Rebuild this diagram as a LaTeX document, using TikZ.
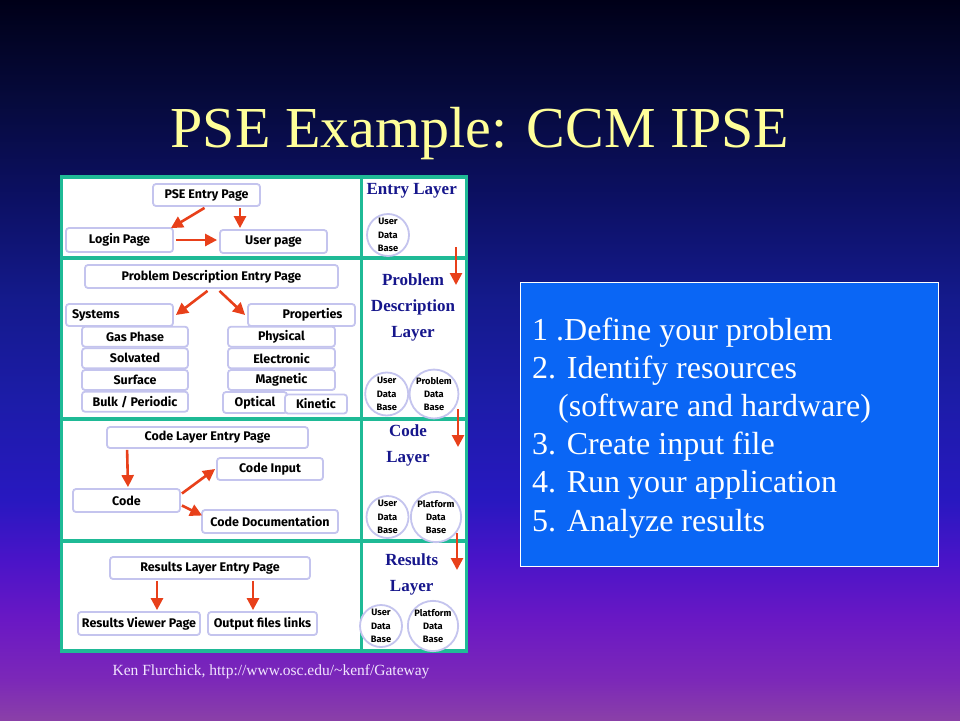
\documentclass[tikz,border=0pt]{standalone}
\usepackage{fontspec}
\setmainfont{Liberation Serif}
\newfontfamily\boxfont{Fira Sans}
\usetikzlibrary{arrows.meta}
\definecolor{bgA}{HTML}{8A40A8}
\definecolor{bgB}{HTML}{7C28B8}
\definecolor{bgC}{HTML}{6A18C4}
\definecolor{bgD}{HTML}{4A14C8}
\definecolor{bgE}{HTML}{2818C0}
\definecolor{bgF}{HTML}{1C1CA8}
\definecolor{bgG}{HTML}{141A8C}
\definecolor{bgH}{HTML}{0C1064}
\definecolor{bgI}{HTML}{060A3C}
\definecolor{bgJ}{HTML}{000018}
\definecolor{titleyellow}{HTML}{FFFF99}
\definecolor{tealline}{HTML}{1FBA96}
\definecolor{lav}{HTML}{C4C4EE}
\definecolor{arrred}{HTML}{E8401A}
\definecolor{layerblue}{HTML}{16168C}
\definecolor{boxblue}{HTML}{0A66F5}
\definecolor{credit}{HTML}{F2E6FF}
\pgfdeclareverticalshading{slidebg}{100bp}{color(0bp)=(bgA); color(25bp)=(bgA); color(27.78bp)=(bgB); color(31.94bp)=(bgC); color(36.11bp)=(bgD); color(40.28bp)=(bgE); color(47.22bp)=(bgF); color(54.17bp)=(bgG); color(61.11bp)=(bgH); color(68.06bp)=(bgI); color(75bp)=(bgJ); color(100bp)=(bgJ)}
\tikzset{
  pbox/.style={draw=lav, fill=white, line width=1.8pt, rounded corners=3pt, inner sep=2pt, text=black,
    font=\boxfont\bfseries\fontsize{12.5}{13}\selectfont},
  rarrow/.style={draw=arrred, line width=2.6pt, -{Triangle[length=12pt,width=12pt]}},
  dbc/.style={circle, draw=lav, fill=white, line width=1.8pt, inner sep=0pt, align=center, text=black,
    font=\boxfont\bfseries\fontsize{9.3}{13.3}\selectfont},
  layer/.style={font=\bfseries\fontsize{17}{26}\selectfont, text=layerblue, align=center},
  divider/.style={draw=tealline, line width=3.5pt},
  listline/.style={anchor=base west, text=white, font=\fontsize{32}{36}\selectfont, inner sep=0pt}
}
\begin{document}
\begin{tikzpicture}[x=1pt,y=-1pt]
\shade[shading=slidebg] (0,0) rectangle (960,720);
\useasboundingbox (0,0) rectangle (960,720);

% title
\node[anchor=base, text=titleyellow, font=\fontsize{58}{60}\selectfont, inner sep=0pt] (title) at (480,147) {PSE Example: CCM IPSE};

% panel
\draw[divider, fill=white] (61.5,177) rectangle (466.5,651);
\draw[divider] (361.5,177) -- (361.5,651);
\draw[divider] (61.5,258) -- (466.5,258);
\draw[divider] (61.5,419) -- (466.5,419);
\draw[divider] (61.5,541) -- (466.5,541);

% entry layer
\node[pbox, minimum width=107pt, minimum height=22pt] (pse) at (206.5,195) {PSE Entry Page};
\node[pbox, minimum width=107pt, minimum height=24pt] (login) at (119.5,240) {Login Page};
\node[pbox, minimum width=107pt, minimum height=23pt] (user) at (273.5,241.5) {User page};
\draw[rarrow] ([xshift=-2pt,yshift=-1pt]pse.south) -- ([xshift=-3pt,yshift=-1pt]login.north east);
\draw[rarrow] ([xshift=33.5pt,yshift=-1pt]pse.south) -- ([xshift=-33.5pt,yshift=1pt]user.north);
\draw[rarrow] ([xshift=2pt]login.east) -- ([xshift=-2pt]login.east -| user.west);

% problem description layer
\node[pbox, minimum width=253pt, minimum height=23pt] (pde) at (211.5,276.5) {Problem Description Entry Page};
\node[pbox, minimum width=107pt, minimum height=22pt, text width=95pt, align=left] (sys) at (119.5,315) {Systems};
\node[pbox, minimum width=107pt, minimum height=22pt, text width=82pt, align=right] (prop) at (301.5,315) {Properties};
\node[pbox, minimum width=106pt, minimum height=20pt] (gas) at (135,336.7) {Gas Phase};
\node[pbox, minimum width=106pt, minimum height=20pt] (solv) at (135,358.3) {Solvated};
\node[pbox, minimum width=106pt, minimum height=20pt] (surf) at (135,380) {Surface};
\node[pbox, minimum width=106pt, minimum height=20pt] (bulk) at (135,401.7) {Bulk / Periodic};
\node[pbox, minimum width=107pt, minimum height=20pt] (phys) at (281.5,336.7) {Physical};
\node[pbox, minimum width=107pt, minimum height=20pt] (elec) at (281.5,358.3) {Electronic};
\node[pbox, minimum width=107pt, minimum height=20pt] (magn) at (281.5,380) {Magnetic};
\node[pbox, minimum width=64pt, minimum height=21pt] (opt) at (255,402.5) {Optical};
\node[pbox, minimum width=62pt, minimum height=19pt] (kin) at (316,404) {Kinetic};
\draw[rarrow] ([xshift=-4pt,yshift=-2pt]pde.south) -- ([xshift=2pt]sys.east);
\draw[rarrow] ([xshift=8pt,yshift=-2pt]pde.south) -- ([xshift=-2pt]prop.west);

% code layer
\node[pbox, minimum width=201pt, minimum height=21pt] (cle) at (207.5,437.5) {Code Layer Entry Page};
\node[pbox, minimum width=106pt, minimum height=22pt] (cin) at (270,469) {Code Input};
\node[pbox, minimum width=107pt, minimum height=23pt] (code) at (126.5,500.5) {Code};
\node[pbox, minimum width=136pt, minimum height=23pt] (cdoc) at (270,521.5) {Code Documentation};
\draw[rarrow] ([xshift=21pt,yshift=-1pt]cle.south west) -- ([xshift=1.5pt,yshift=1pt]code.north);
\draw[rarrow] ([xshift=1pt,yshift=7pt]code.east) -- ([xshift=-1pt]cin.west);
\draw[rarrow] ([xshift=1pt,yshift=-5pt]code.east) -- ([xshift=1pt,yshift=6pt]cdoc.west);

% results layer
\node[pbox, minimum width=200pt, minimum height=22pt] (rle) at (210,568) {Results Layer Entry Page};
\node[pbox, minimum width=122pt, minimum height=23pt] (rview) at (139,623.5) {Results Viewer Page};
\node[pbox, minimum width=109pt, minimum height=23pt] (outp) at (262.5,623.5) {Output files links};
\draw[rarrow] ([xshift=-53pt,yshift=-1pt]rle.south) -- ([xshift=18pt,yshift=1pt]rview.north);
\draw[rarrow] ([xshift=43pt,yshift=-1pt]rle.south) -- ([xshift=-9.5pt,yshift=1pt]outp.north);

% right column
\node[layer] (l1) at (411.7,191) {Entry Layer};
\node[dbc, minimum size=42pt] (udb1) at (388,235) {User\\Data\\Base};
\node[layer] (l2) at (413,307.5) {Problem\\Description\\Layer};
\node[dbc, minimum size=43pt] (udb2) at (386.7,394) {User\\Data\\Base};
\node[dbc, minimum size=48pt] (pdb2) at (434,394) {Problem\\Data\\Base};
\node[layer] (l3) at (408,445.5) {Code\\Layer};
\node[dbc, minimum size=42pt] (udb3) at (387.5,517) {User\\Data\\Base};
\node[dbc, minimum size=48pt] (pfdb3) at (436,517) {Platform\\Data\\Base};
\node[layer] (l4) at (411.7,574) {Results\\Layer};
\node[dbc, minimum size=42pt] (udb4) at (381,626) {User\\Data\\Base};
\node[dbc, minimum size=50pt] (pfdb4) at (433,626) {Platform\\Data\\Base};

\coordinate (ra1s) at (456,247);
\coordinate (ra1e) at (456,285);
\coordinate (ra2s) at (458,409);
\coordinate (ra2e) at (458,447);
\coordinate (ra3s) at (457,533);
\coordinate (ra3e) at (457,570);
\draw[rarrow] (ra1s) -- (ra1e);
\draw[rarrow] (ra2s) -- (ra2e);
\draw[rarrow] (ra3s) -- (ra3e);

% blue list box
\node[draw=white, line width=1pt, fill=boxblue, minimum width=418pt, minimum height=284pt, anchor=north west, inner sep=0pt] (list) at (520,282) {};
\node[listline] (i1) at (532,340) {1 .Define your problem};
\node[listline] (i2) at (532,378.2) {2. Identify resources};
\node[listline] (i2b) at (558,416.4) {(software and hardware)};
\node[listline] (i3) at (532,454.6) {3. Create input file};
\node[listline] (i4) at (532,492.8) {4. Run your application};
\node[listline] (i5) at (532,531) {5. Analyze results};

% credit
\node[anchor=base, text=credit, font=\fontsize{15.5}{17}\selectfont, inner sep=0pt] (cred) at (271,675) {Ken Flurchick, http://www.osc.edu/\textasciitilde kenf/Gateway};
\end{tikzpicture}
\end{document}
